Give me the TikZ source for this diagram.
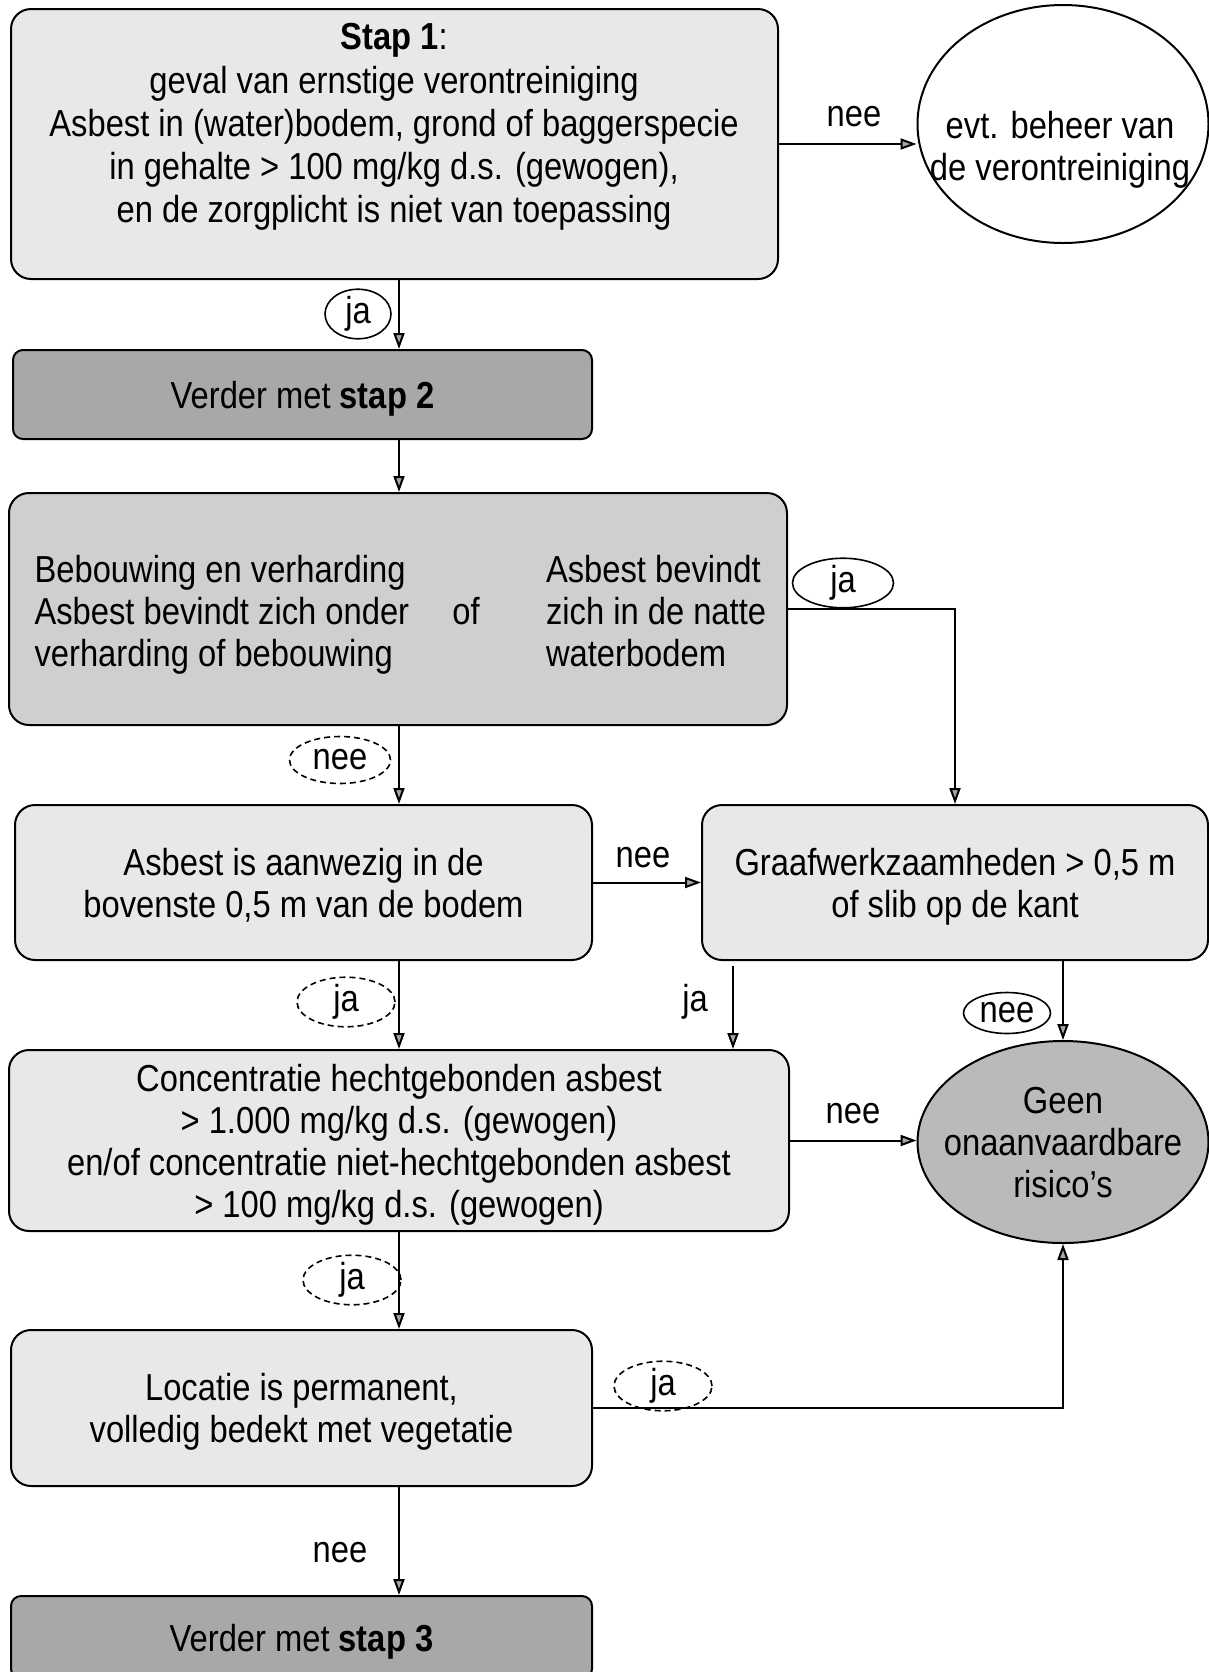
\documentclass[tikz,border=0pt]{standalone}
\usepackage{fontspec}
\setmainfont{Liberation Sans}[FakeStretch=0.87]
\usetikzlibrary{shapes.geometric,arrows.meta}
\definecolor{paleboxgray}{gray}{0.91}
\definecolor{midboxgray}{gray}{0.81}
\definecolor{darkboxgray}{gray}{0.66}
\definecolor{ovalgray}{gray}{0.73}

\begin{document}
\begin{tikzpicture}[x=0.5pt,y=-0.5pt,
    every node/.style={font=\fontsize{18.8}{21}\selectfont},
    >={Triangle[length=8pt,width=5.5pt,fill=gray!70]},
    box/.style={draw,line width=1pt,rounded corners=10pt,fill=paleboxgray,align=center,text depth=-1pt},
    darkbox/.style={box,rounded corners=5pt,fill=darkboxgray},
    oval/.style={draw,ellipse,line width=1pt,align=center,inner sep=0pt},
    tag/.style={draw,ellipse,line width=0.8pt,inner sep=0pt},
    dtag/.style={tag,dash pattern=on 3pt off 2pt},
    arr/.style={->,line width=1pt}]
    \useasboundingbox (0,0) rectangle (1209,1672);
    \coordinate (spine) at (399,0);

    \node[box,minimum width=383.5pt,minimum height=135pt] (stap1) at (394.5,144) {};
    \node[align=center,font=\fontsize{18.8}{21.6}\selectfont] (stap1txt) at (394,127) {\textbf{Stap 1}:\\
        geval van ernstige verontreiniging\\
        Asbest in (water)bodem, grond of baggerspecie\\
        in gehalte > 100 mg/kg d.s. (gewogen),\\
        en de zorgplicht is niet van toepassing};
    \node[oval,minimum width=145.5pt,minimum height=119pt] (beheer) at (1063,124) {};
    \node[align=center] (beheertxt) at (1060,150) {evt. beheer van\\de verontreiniging};
    \draw[arr] (stap1.east) -- (stap1.east -| beheer.west);
    \node (nee1) at (854,117) {nee};

    \node[darkbox,minimum width=289.5pt,minimum height=44.5pt] (stap2) at (302.5,394.5) {Verder met \textbf{stap 2}};
    \draw[arr] (stap1.south -| spine) -- (stap2.north -| spine);
    \node[tag,minimum width=33pt,minimum height=21.5pt] (ja1) at (358,314) {ja};

    \node[box,fill=midboxgray,minimum width=389pt,minimum height=116pt] (beb) at (398,609) {};
    \node[anchor=west,align=left] (bebleft) at (27.5,615) {Bebouwing en verharding\\
        Asbest bevindt zich onder\\
        verharding of bebouwing};
    \node (bebof) at (466,611) {of};
    \node[anchor=west,align=left] (bebright) at (539,611) {Asbest bevindt\\
        zich in de natte\\
        waterbodem};
    \draw[arr] (stap2.south -| spine) -- (beb.north -| spine);

    \node[box,minimum width=288.5pt,minimum height=77.5pt] (asb) at (303.5,882.5) {Asbest is aanwezig in de\\bovenste 0,5 m van de bodem};
    \node[box,minimum width=253pt,minimum height=77.5pt] (graaf) at (955,882.5) {Graafwerkzaamheden > 0,5 m\\of slib op de kant};
    \draw[arr] (beb.east) -| (graaf.north);
    \node[tag,minimum width=50.5pt,minimum height=21.5pt] (ja2) at (843,583) {ja};
    \draw[arr] (beb.south -| spine) -- (asb.north -| spine);
    \node[dtag,minimum width=50.5pt,minimum height=23.5pt] (nee2) at (340,760) {nee};
    \draw[arr] (asb.east) -- (graaf.west);
    \node (nee3) at (643,858) {nee};

    \node[box,minimum width=390pt,minimum height=90.5pt] (conc) at (399,1140.5) {Concentratie hechtgebonden asbest\\
        > 1.000 mg/kg d.s. (gewogen)\\
        en/of concentratie niet-hechtgebonden asbest\\
        > 100 mg/kg d.s. (gewogen)};
    \node[oval,fill=ovalgray,inner xsep=-9pt,text depth=-2pt,minimum width=145.5pt,minimum height=101pt] (geen) at (1063,1142) {Geen\\onaanvaardbare\\risico’s};
    \coordinate (graafja) at (733,0);
    \draw[arr] (asb.south -| spine) -- (conc.north -| spine);
    \node[dtag,minimum width=49pt,minimum height=23.5pt] (ja3) at (346,1002) {ja};
    \draw[arr,shorten <=2.5pt] (graaf.south -| graafja) -- (conc.north -| graafja);
    \node (ja4) at (695,1002) {ja};
    \draw[arr] (graaf.south -| geen.north) -- (geen.north);
    \node[tag,minimum width=43.5pt,minimum height=20.5pt] (nee4) at (1007,1013) {nee};
    \draw[arr] (conc.east) -- (conc.east -| geen.west);
    \node (nee5) at (853,1114) {nee};

    \node[box,minimum width=290.5pt,minimum height=78pt] (loc) at (301.5,1408) {Locatie is permanent,\\volledig bedekt met vegetatie};
    \draw[arr] (conc.south -| spine) -- (loc.north -| spine);
    \node[dtag,minimum width=49pt,minimum height=22.5pt] (ja5) at (352,1280) {ja};
    \draw[arr] (loc.east) -| (geen.south);
    \node[dtag,minimum width=49pt,minimum height=21.5pt] (ja6) at (663,1386) {ja};

    \node[darkbox,minimum width=290.5pt,minimum height=41.5pt] (stap3) at (301.5,1637.5) {Verder met \textbf{stap 3}};
    \draw[arr] (loc.south -| spine) -- (stap3.north -| spine);
    \node (nee6) at (340,1553) {nee};
\end{tikzpicture}
\end{document}
